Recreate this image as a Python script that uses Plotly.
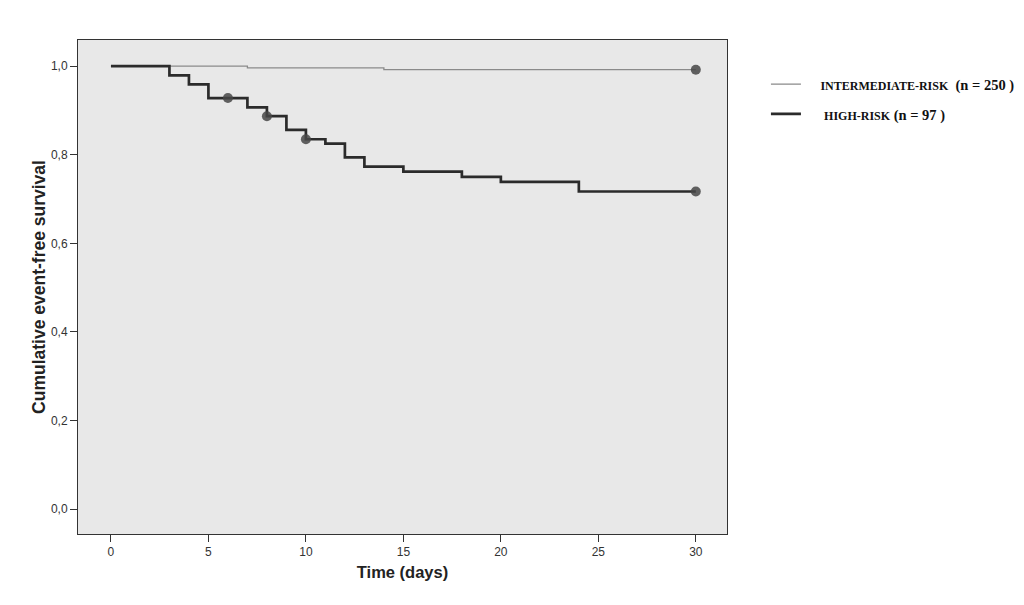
import plotly.graph_objects as go

# Kaplan-Meier step data
high_t = [0, 3, 4, 5, 7, 8, 9, 10, 11, 12, 13, 15, 18, 20, 24, 30]
high_s = [1.0, 0.979, 0.959, 0.928, 0.907, 0.887, 0.856, 0.835, 0.825, 0.794, 0.773, 0.762, 0.750, 0.739, 0.717, 0.717]
int_t = [0, 7, 14, 30]
int_s = [1.0, 0.996, 0.992, 0.992]

# censoring marks
high_cens_t = [6, 8, 10, 30]
high_cens_s = [0.928, 0.887, 0.835, 0.717]
int_cens_t = [30]
int_cens_s = [0.992]

x_ticks = [0, 5, 10, 15, 20, 25, 30]
y_ticks = [0.0, 0.2, 0.4, 0.6, 0.8, 1.0]

int_name = "&nbsp;&nbsp;&nbsp;&nbsp;<b><span style='font-size:12px'>INTERMEDIATE-RISK</span>&nbsp; (n = 250 )</b>"
high_name = "&nbsp;&nbsp;&nbsp;&nbsp;&nbsp;<b><span style='font-size:12px'>HIGH-RISK</span> (n = 97 )</b>"

fig = go.Figure()
fig.add_trace(go.Scatter(x=int_t, y=int_s, mode="lines", line=dict(color="#8a8a8a", width=1.3, shape="hv"),
                         name=int_name, legendgroup="a"))
fig.add_trace(go.Scatter(x=high_t, y=high_s, mode="lines", line=dict(color="#2b2b2b", width=2.7, shape="hv"),
                         name=high_name, legendgroup="b"))
fig.add_trace(go.Scatter(x=int_cens_t, y=int_cens_s, mode="markers", showlegend=False,
                         marker=dict(color="rgba(70,70,70,0.85)", size=10)))
fig.add_trace(go.Scatter(x=high_cens_t, y=high_cens_s, mode="markers", showlegend=False,
                         marker=dict(color="rgba(70,70,70,0.85)", size=10)))

# the page body adds an 8px offset; margins compensate for it
fig.update_layout(
    width=1024, height=605,
    margin=dict(l=70, r=305, t=32, b=79),
    paper_bgcolor="white",
    plot_bgcolor="#e8e8e8",
    separators=", ",
    font=dict(family="Liberation Sans, Arial, sans-serif", color="#333"),
    legend=dict(x=1.06, y=0.943, xanchor="left", yanchor="top", bgcolor="rgba(0,0,0,0)",
                font=dict(family="Liberation Serif, Times New Roman, serif", size=14.5, color="#111"),
                tracegroupgap=8, itemwidth=30),
)
fig.update_xaxes(range=[-1.69, 31.6], tickvals=x_ticks, ticks="outside", ticklen=7, tickcolor="#333",
                 showgrid=False, zeroline=False, showline=True, linecolor="#333", linewidth=1, mirror=True,
                 automargin=False, tickfont=dict(size=12, color="#333"),
                 title=dict(text="<b>Time (days)</b>", font=dict(size=16.5, color="#222"), standoff=8))
fig.update_yaxes(range=[-0.056, 1.059], tickvals=y_ticks, tickformat=".1f", ticks="outside", ticklen=7,
                 tickcolor="#333", showgrid=False, zeroline=False, showline=True, linecolor="#333", linewidth=1,
                 mirror=True, automargin=False, tickfont=dict(size=12, color="#333"),
                 title=dict(text="<b>Cumulative event-free survival</b>", font=dict(size=17.5, color="#222"), standoff=0))

fig.write_html("out.html")
